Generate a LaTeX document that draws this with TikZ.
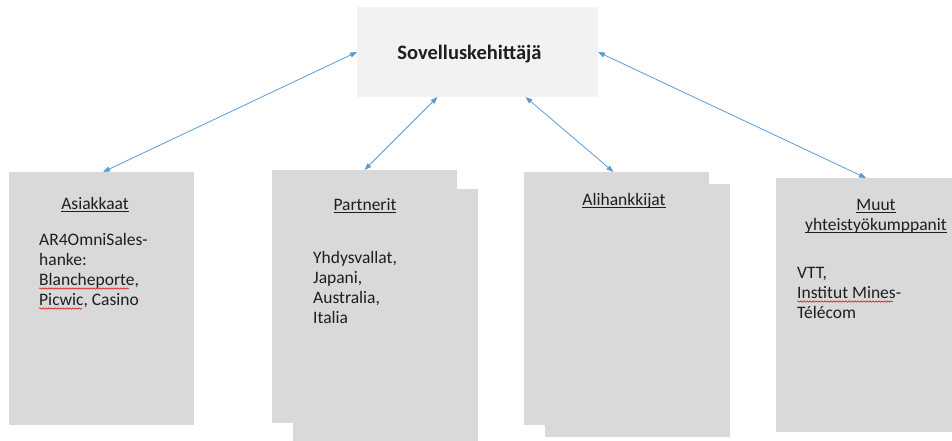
\documentclass[tikz,border=0pt]{standalone}
\usepackage{fontspec}
\setmainfont{Carlito}
\usetikzlibrary{arrows.meta,decorations.pathmorphing}
\definecolor{boxgray}{HTML}{D9D9D9}
\definecolor{topgray}{HTML}{F2F2F2}
\definecolor{arrowblue}{HTML}{5B9BD5}
\definecolor{txt}{HTML}{1E1E1E}
\newcommand{\ulword}[1]{\setbox0\hbox{#1}\rlap{\color{txt}\rule[-2.8pt]{\wd0}{0.8pt}}\box0}
\begin{document}
\begin{tikzpicture}[x=1pt,y=-1pt,
  panel/.style={fill=boxgray, draw=none, inner sep=0pt, outer sep=0pt, anchor=north west},
  toppanel/.style={fill=topgray, draw=none, inner sep=0pt, outer sep=0pt, anchor=north west},
  heading/.style={anchor=base, inner sep=0pt, text=txt, font=\fontsize{17.5}{20}\selectfont},
  bodytext/.style={anchor=base west, inner sep=0pt, text=txt, font=\fontsize{17.5}{20}\selectfont},
  titletext/.style={anchor=base, inner sep=0pt, text=txt, font=\fontsize{20.5}{24}\selectfont\bfseries},
  conn/.style={draw=arrowblue, line width=0.8pt, >={Triangle[length=7pt,width=5pt]}, <->},
  squig/.style={draw=red!85!black, line width=0.5pt, decorate, decoration={snake, amplitude=0.7pt, segment length=3pt}}]
\useasboundingbox (0,0) rectangle (952,441);

% top box
\node[toppanel, minimum width=241pt, minimum height=90pt] (top) at (357,7) {};
\node[titletext] (title) at (469.5,60) {Sovelluskehittäjä};

% Asiakkaat
\node[panel, minimum width=185pt, minimum height=253pt] (asi) at (9,172) {};
\node[heading] (asih) at (95,209) {\ulword{Asiakkaat}};
\node[bodytext] (asi1) at (39,245) {AR4OmniSales-};
\node[bodytext] (asi2) at (39,265) {hanke:};
\node[bodytext] (asi3) at (39,285) {Blancheporte,};
\node[bodytext] (asi4) at (39,305) {Picwic, Casino};

% Partnerit (two stacked sheets)
\node[panel, minimum width=185pt, minimum height=252pt] (parback) at (293,189) {};
\node[panel, minimum width=185pt, minimum height=253pt] (par) at (272,170) {};
\node[heading] (parh) at (365,210) {\ulword{Partnerit}};
\node[bodytext] (par1) at (313,263) {Yhdysvallat,};
\node[bodytext] (par2) at (313,283) {Japani,};
\node[bodytext] (par3) at (313,303) {Australia,};
\node[bodytext] (par4) at (313,323) {Italia};

% Alihankkijat (two stacked sheets)
\node[panel, minimum width=185pt, minimum height=253pt] (aliback) at (545,184) {};
\node[panel, minimum width=185pt, minimum height=253pt] (ali) at (524,172) {};
\node[heading] (alih) at (624,205) {\ulword{Alihankkijat}};

% Muut
\node[panel, minimum width=176pt, minimum height=254pt] (muu) at (776,178) {};
\node[heading] (muuh1) at (876,210) {\ulword{Muut}};
\node[heading] (muuh2) at (876,230) {\ulword{yhteistyökumppanit}};
\node[bodytext] (muu1) at (797,278) {VTT,};
\node[bodytext] (muu2) at (797,298) {Institut Mines-};
\node[bodytext] (muu3) at (797,318) {Télécom};

% spell-check marks
\draw[squig] (39,288.5) -- (129,288.5);
\draw[squig] (39,308.5) -- (82,308.5);
\draw[squig] (797,301.5) -- (893,301.5);

% connectors
\draw[conn] (top.west) -- ([xshift=1.5pt]asi.north);
\draw[conn] ([xshift=-40pt]top.south) -- (par.north);
\draw[conn] ([xshift=48pt]top.south) -- ([xshift=-3pt]ali.north);
\draw[conn] (top.east) -- ([xshift=2pt]muu.north);
\end{tikzpicture}
\end{document}
